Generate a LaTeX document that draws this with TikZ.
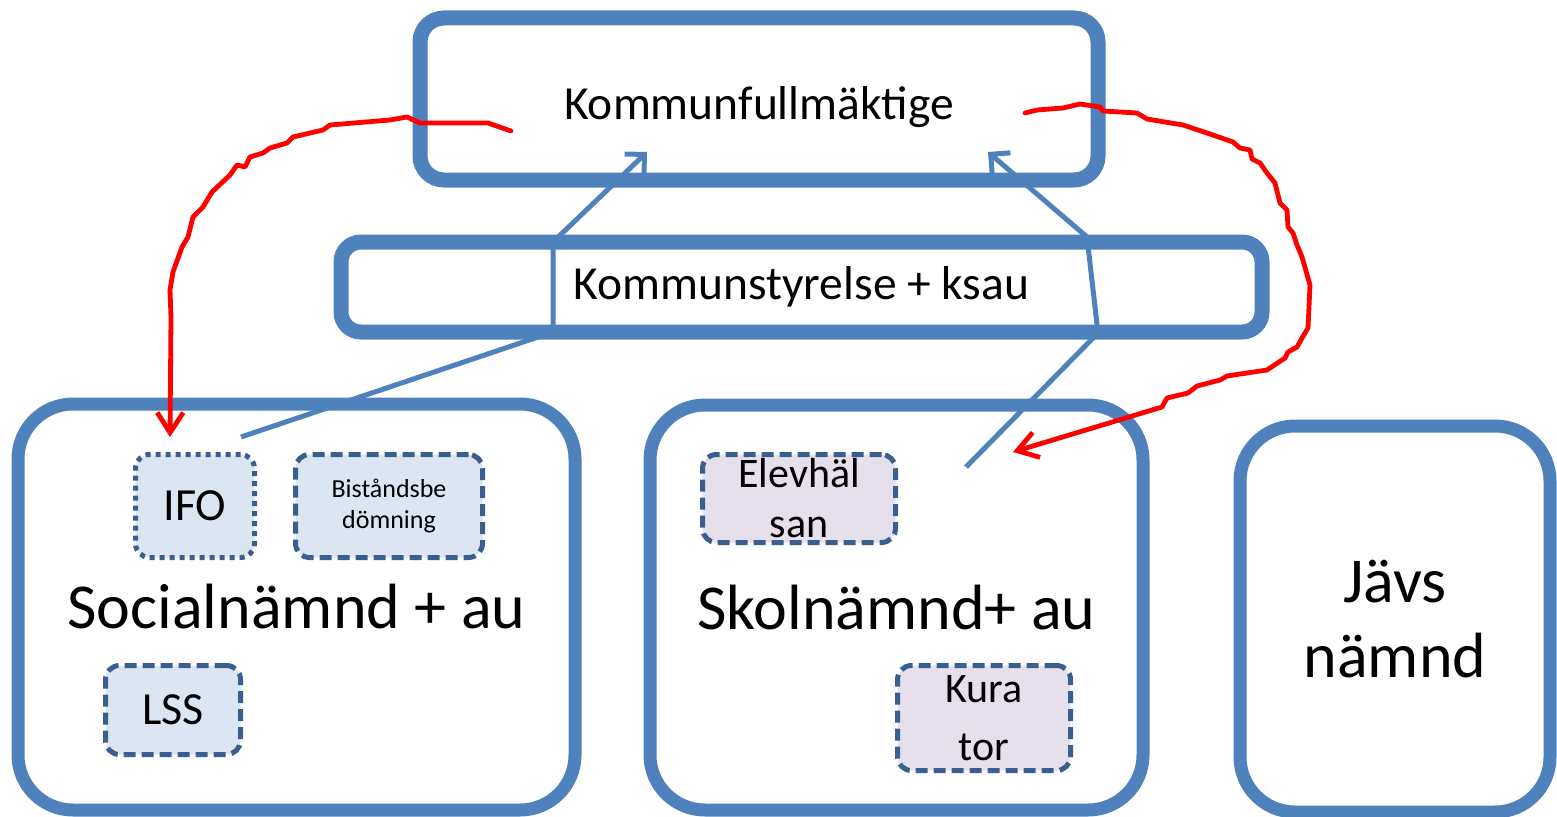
\documentclass[tikz,border=0pt]{standalone}
\usepackage{fontspec}
\setmainfont{Carlito}
\usetikzlibrary{arrows.meta}
\definecolor{mblue}{HTML}{4F81BD}
\definecolor{dblue}{HTML}{3A5F8F}
\definecolor{lfill}{HTML}{DCE6F2}
\definecolor{vfill}{HTML}{E6E0EC}
\definecolor{rred}{HTML}{FF0000}
\begin{document}
\begin{tikzpicture}[x=1pt,y=-1pt,
  bigbox/.style={draw=mblue, line width=15pt, rounded corners=24pt, inner sep=0pt, font=\fontsize{47.5}{57}\selectfont},
  unitbox/.style={draw=mblue, line width=13pt, rounded corners=55pt, inner sep=0pt, align=center, font=\fontsize{64}{75}\selectfont},
  subbox/.style={draw=dblue, line width=5pt, rounded corners=14pt, inner sep=0pt, align=center, dash pattern=on 12pt off 6pt},
  dotbox/.style={subbox, dash pattern=on 5pt off 5pt},
  link/.style={draw=mblue, line width=5pt, line join=round, -{Straight Barb[length=14pt,width=28pt]}},
  redline/.style={draw=rred, line width=4.8pt, line join=round, line cap=round, -{Straight Barb[length=20pt,width=26pt]}}
]
\useasboundingbox (0,0) rectangle (1557,816);
\clip (0,0) rectangle (1557,816);

% big boxes
\node[bigbox, minimum width=678pt, minimum height=162pt, text depth=0pt] (kf) at (759,99) {\raisebox{-9pt}{Kommunfullmäktige}};
\node[bigbox, rounded corners=20pt, minimum width=921pt, minimum height=90pt] (ks) at (801.5,287) {\raisebox{-3pt}{Kommunstyrelse + ksau}};
\node[unitbox, minimum width=557pt, minimum height=406pt] (soc) at (296.5,607) {Socialnämnd + au};
\node[unitbox, minimum width=493pt, minimum height=405pt] (skol) at (896.5,607.5) {Skolnämnd+ au};
\node[unitbox, minimum width=310pt, minimum height=386pt] (javs) at (1395,619) {Jävs\\nämnd};

% sub boxes
\node[dotbox, fill=lfill, minimum width=119pt, minimum height=103pt, font=\fontsize{46}{55}\selectfont] (ifo) at (195,506) {IFO};
\node[subbox, fill=lfill, minimum width=187pt, minimum height=103pt, font=\fontsize{26}{31}\selectfont] (bist) at (389,506) {Biståndsbe\\dömning};
\node[subbox, fill=lfill, minimum width=135pt, minimum height=89pt, font=\fontsize{46}{55}\selectfont] (lss) at (173,710) {LSS};
\node[subbox, fill=vfill, minimum width=193pt, minimum height=88pt, font=\fontsize{42}{50}\selectfont] (elev) at (799,498.5) {Elevhäl\\san};
\node[subbox, fill=vfill, minimum width=173pt, minimum height=105pt, font=\fontsize{42}{58}\selectfont] (kura) at (984,718) {Kura\\tor};

% blue links
\coordinate (a1) at (241,437);
\coordinate (a2) at (553,332);
\coordinate (a3) at (553,242);
\coordinate (a4) at (647,152);
\draw[link] (a1) -- (a2) -- (a3) -- (a4);
\coordinate (b1) at (966,467);
\coordinate (b2) at (1098,333);
\coordinate (b3) at (1087,237);
\coordinate (b4) at (988,152);
\draw[link] (b1) -- (b2) -- (b3) -- (b4);

% red freehand arrows
\coordinate (rs1) at (511,131);
\coordinate (re1) at (170,437);
\draw[redline] (rs1) -- (488,123) -- (420,123) -- (407,117) -- (390,120) -- (330,125) -- (323,130) -- (293,137) -- (287,143) -- (270,148) -- (263,153) -- (250,157) -- (245,167) -- (237,165) -- (230,175) -- (212,192) -- (203,207) -- (193,217) -- (188,237) -- (182,247) -- (173,272) -- (170,290) -- (171,317) -- (re1);
\coordinate (rs2) at (1025,113);
\coordinate (re2) at (1013,452);
\draw[redline] (rs2) -- (1037,110) -- (1063,108) -- (1080,104) -- (1100,107) -- (1103,111) -- (1137,113) -- (1147,119) -- (1183,125) -- (1207,133) -- (1233,142) -- (1240,148) -- (1250,150) -- (1252,159) -- (1260,163) -- (1267,173) -- (1275,183) -- (1280,203) -- (1287,210) -- (1288,227) -- (1293,233) -- (1297,245) -- (1302,257) -- (1310,285) -- (1308,328) -- (1302,338) -- (1297,347) -- (1288,352) -- (1285,358) -- (1267,370) -- (1227,376) -- (1220,380) -- (1197,386) -- (1188,393) -- (1167,398) -- (1162,407) -- (re2);
\end{tikzpicture}
\end{document}
